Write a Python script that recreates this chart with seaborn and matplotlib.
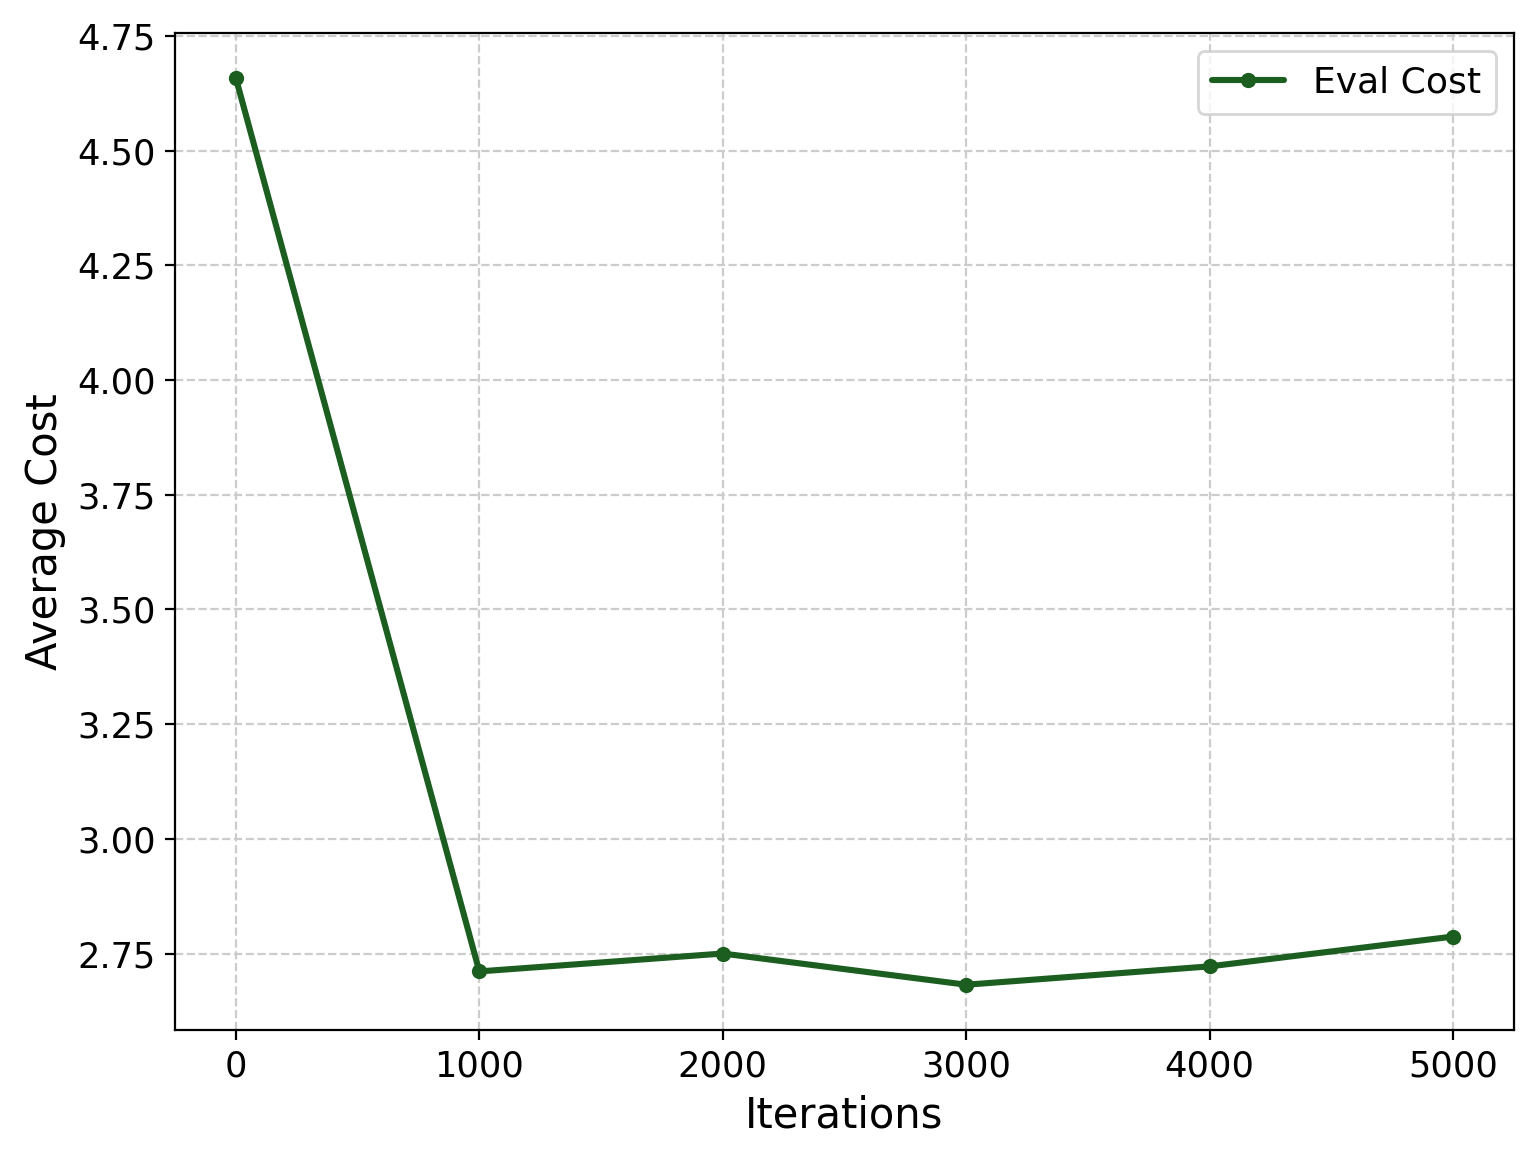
import matplotlib
matplotlib.use("Agg")
import matplotlib.pyplot as plt
import seaborn as sns
import pandas as pd

# data
iterations = [0, 1000, 2000, 3000, 4000, 5000]
eval_cost = [4.658, 2.711, 2.750, 2.682, 2.722, 2.787]

df = pd.DataFrame({"Iterations": iterations, "Average Cost": eval_cost})

sns.set_style("ticks")
plt.rcParams['font.family'] = ['DejaVu Sans']
plt.rcParams.update({'text.color': 'black', 'axes.labelcolor': 'black',
                     'xtick.color': 'black', 'ytick.color': 'black'})

fig, ax = plt.subplots(figsize=(7.685, 5.805), dpi=200)
sns.lineplot(data=df, x="Iterations", y="Average Cost", marker="o", markersize=5.5,
             markeredgewidth=0, color="#1b5e20", linewidth=2.2, label="Eval Cost", ax=ax)

ax.set_xticks(iterations)
ax.set_yticks([2.75, 3.00, 3.25, 3.50, 3.75, 4.00, 4.25, 4.50, 4.75])
ax.yaxis.set_major_formatter(matplotlib.ticker.FormatStrFormatter('%.2f'))
ax.grid(True, linestyle='--', color='#cccccc', linewidth=0.8)
ax.set_xlabel("Iterations", fontsize=15)
ax.set_ylabel("Average Cost", fontsize=15)
ax.tick_params(labelsize=12.7)
ax.legend(fontsize=13, loc="upper right")
for s in ax.spines.values():
    s.set_visible(True)
    s.set_color("black")

fig.subplots_adjust(left=0.1139, right=0.985, top=0.9716, bottom=0.1128)
plt.savefig("out.png", dpi=200)
